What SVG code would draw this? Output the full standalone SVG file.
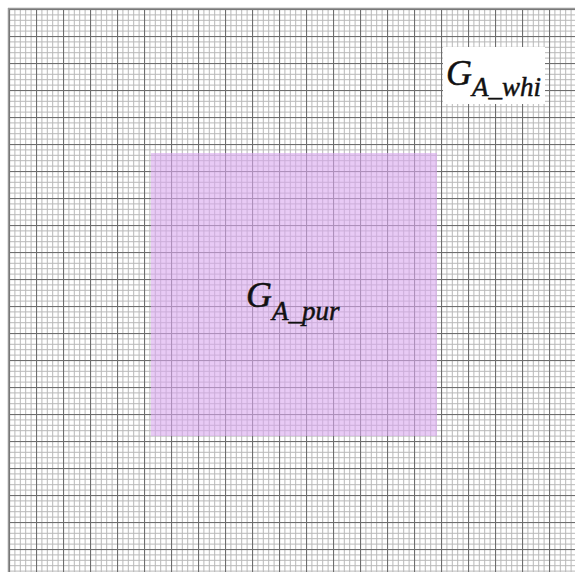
<svg xmlns="http://www.w3.org/2000/svg" width="575" height="572" viewBox="0 0 575 572">
  <style>
    .lbl { font-family: "Liberation Serif", "Times New Roman", serif; font-style: italic; fill: #111; stroke: #111; stroke-width: 0.5; }
  </style>
  <defs>
    <pattern id="grid" x="9" y="9" width="27" height="27" patternUnits="userSpaceOnUse">
      <g stroke="#b8b8b8" stroke-width="1">
        <line x1="5.9" y1="0" x2="5.9" y2="27"/>
        <line x1="11.3" y1="0" x2="11.3" y2="27"/>
        <line x1="16.7" y1="0" x2="16.7" y2="27"/>
        <line x1="22.1" y1="0" x2="22.1" y2="27"/>
        <line y1="5.9" x1="0" y2="5.9" x2="27"/>
        <line y1="11.3" x1="0" y2="11.3" x2="27"/>
        <line y1="16.7" x1="0" y2="16.7" x2="27"/>
        <line y1="22.1" x1="0" y2="22.1" x2="27"/>
      </g>
      <g stroke="#6e6e6e" stroke-width="1.2">
        <line x1="0.5" y1="0" x2="0.5" y2="27"/>
        <line y1="0.5" x1="0" y2="0.5" x2="27"/>
      </g>
    </pattern>
  </defs>
  <rect x="0" y="0" width="575" height="572" fill="#ffffff"/>
  <g id="grid-paper">
    <rect x="9" y="9" width="566" height="563" fill="url(#grid)"/>
    <line x1="8.5" y1="8" x2="8.5" y2="572" stroke="#999" stroke-width="1.5"/>
    <line x1="8" y1="8.5" x2="575" y2="8.5" stroke="#999" stroke-width="1.5"/>
  </g>
  <g id="region-pur">
    <rect x="151" y="153" width="286" height="283" fill="#d9a6ee" fill-opacity="0.6"/>
    <text class="lbl" x="246" y="307" font-size="36">G<tspan font-size="27" dy="13">A_pur</tspan></text>
  </g>
  <g id="label-whi">
    <rect x="443" y="47" width="102" height="57" fill="#ffffff"/>
    <text class="lbl" x="446" y="85" font-size="36">G<tspan font-size="27" dy="11">A_whi</tspan></text>
  </g>
  <g id="connectors"/>
</svg>
